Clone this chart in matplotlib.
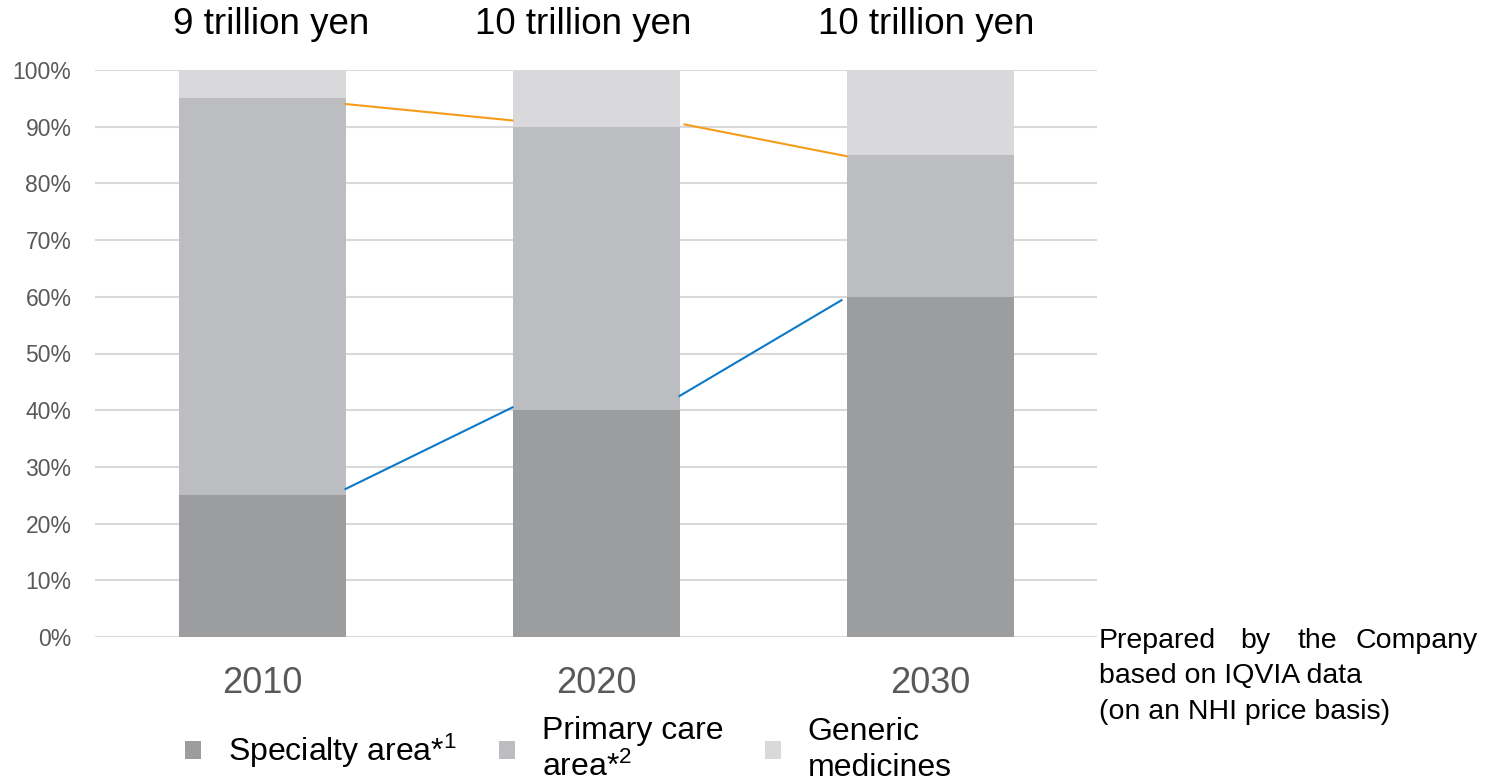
import matplotlib.pyplot as plt
from matplotlib.patches import Patch
import numpy as np

plt.rcParams['font.family'] = ['Liberation Sans', 'DejaVu Sans']
plt.rcParams['mathtext.fontset'] = 'custom'
plt.rcParams['mathtext.rm'] = 'Liberation Sans'
plt.rcParams['mathtext.it'] = 'Liberation Sans'

# market composition by year (share of total)
years = ['2010', '2020', '2030']
market_size = ['9 trillion yen', '10 trillion yen', '10 trillion yen']
specialty = [0.25, 0.40, 0.60]
primary_care = [0.70, 0.50, 0.25]
generic = [0.05, 0.10, 0.15]

series_names = ['Specialty area*$^{1}$', 'Primary care\narea*$^{2}$', 'Generic\nmedicines']
series_colors = ['#9c9d9f', '#bcbdc1', '#d9d9db']

# trend lines drawn between the bars
link_x = [[0.25, 0.75], [1.25, 1.735]]
specialty_link = [[0.261, 0.405], [0.425, 0.594]]
generic_link_x = [[0.25, 0.75], [1.265, 1.75]]
generic_link = [[0.940, 0.911], [0.904, 0.848]]

W, H = 1487, 781
fig = plt.figure(figsize=(W / 100, H / 100), dpi=100)
ax = fig.add_axes([95 / W, (H - 637) / H, 1002 / W, 567 / H])

x = np.arange(len(years))
bottom = np.zeros(len(years))
for vals, col in zip([specialty, primary_care, generic], series_colors):
    ax.bar(x, vals, width=0.5, bottom=bottom, color=col, zorder=2)
    bottom += np.array(vals)

for xs, ys in zip(link_x, specialty_link):
    ax.plot(xs, ys, color='#0b78c8', lw=1.5, zorder=3)
for xs, ys in zip(generic_link_x, generic_link):
    ax.plot(xs, ys, color='#f59c1a', lw=1.5, zorder=3)

ax.set_xlim(-0.5, 2.5)
ax.set_ylim(0, 1)
ax.set_yticks(np.arange(0, 1.01, 0.1))
ax.set_yticklabels([f'{int(round(v * 100))}%' for v in np.arange(0, 1.01, 0.1)])
ax.set_xticks(x)
ax.set_xticklabels(years)
ax.tick_params(axis='y', length=0, pad=17, labelsize=16.5, labelcolor='#595959')
ax.tick_params(axis='x', length=0, pad=21, labelsize=26, labelcolor='#595959')
ax.grid(axis='y', color='#d9d9d9', lw=1.5, zorder=0)
for s in ax.spines.values():
    s.set_visible(False)

# totals above each bar, nudged a little sideways
title_shift = [9, -13, -4]
for xi, label, dx in zip(x, market_size, title_shift):
    ax.annotate(label, (xi, 1), xytext=(dx, 46), textcoords='offset pixels',
                ha='center', va='center', fontsize=26.5, color='black',
                annotation_clip=False)

handles = [Patch(facecolor=c, edgecolor='none') for c in series_colors]
leg = fig.legend(handles, series_names, loc='upper left', ncol=3,
                 bbox_to_anchor=(185 / W, (H - 716) / H), frameon=False,
                 fontsize=23, handlelength=0.5, handleheight=0.5,
                 handletextpad=0.85, columnspacing=1.3, borderpad=0,
                 borderaxespad=0)
for t in leg.get_texts():
    t.set_linespacing(1.25)

# source note, first line spread to the full width
note_size = 20.5
line_y = [641, 676, 712]
for word, xp, ha in [('Prepared', 1099, 'left'), ('by', 1240, 'left'),
                     ('the', 1298, 'left'), ('Company', 1478, 'right')]:
    fig.text(xp / W, (H - line_y[0]) / H, word, ha=ha, va='center',
             fontsize=note_size)
fig.text(1099 / W, (H - line_y[1]) / H, 'based on IQVIA data', ha='left',
         va='center', fontsize=note_size)
fig.text(1099 / W, (H - line_y[2]) / H, '(on an NHI price basis)', ha='left',
         va='center', fontsize=note_size)

fig.savefig('out.png', dpi=100)
